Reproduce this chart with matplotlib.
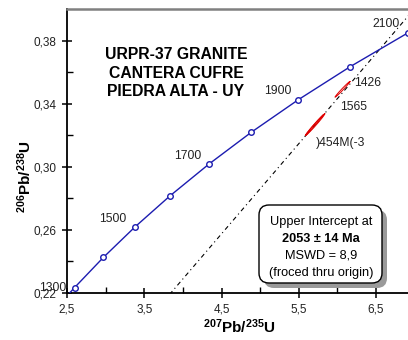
import numpy as np
import matplotlib
matplotlib.use("Agg")
import matplotlib.pyplot as plt
from matplotlib.patches import FancyBboxPatch
from matplotlib.ticker import FuncFormatter

# concordia points (every 100 Ma)
ages = [1300, 1400, 1500, 1600, 1700, 1800, 1900, 2000, 2100]
conc_x = [2.5977, 2.9701, 3.3810, 3.8344, 4.3348, 4.8869, 5.4962, 6.1685, 6.9105]
conc_y = [0.22343, 0.24256, 0.26199, 0.28172, 0.30175, 0.32210, 0.34277, 0.36377, 0.38509]
# curve continues past the marked ages (1280 and 2150 Ma)
conc_lo = (2.5276, 0.21965)
conc_hi = (7.3099, 0.39587)
labelled_ages = [1300, 1500, 1700, 1900, 2100]

# upper intercept (2053 Ma), discordia forced through origin
intercept = (6.5527, 0.37503)

# error ellipses: name, x, sx, y, sy, rho
ell_names = ["1426", "1565", ")454M(-3"]
ell_x = [6.066, 5.712, 5.702]
ell_sx = [0.097, 0.125, 0.118]
ell_y = [0.3493, 0.3269, 0.3265]
ell_sy = [0.0050, 0.0069, 0.0066]
ell_rho = [0.99, 0.99, 0.996]

plt.rcParams["font.family"] = ["Liberation Sans", "DejaVu Sans"]
plt.rcParams["mathtext.fontset"] = "custom"
plt.rcParams["mathtext.rm"] = "Liberation Sans"
plt.rcParams["mathtext.bf"] = "Liberation Sans:bold"

fig = plt.figure(figsize=(4.08, 3.40), dpi=100)
W, H = 408, 340
ax = fig.add_axes([67 / W, 1 - 293 / H, 1 - 67 / W, (293 - 9) / H])
ax.set_xlim(2.5, 6.914)
ax.set_ylim(0.22, 0.4003)

blue = "#1c1cb0"
ax.plot([conc_lo[0]] + conc_x + [conc_hi[0]], [conc_lo[1]] + conc_y + [conc_hi[1]],
        color=blue, lw=1.0, zorder=3)
ax.plot(conc_x, conc_y, "o", ms=4, mfc="white", mec=blue, mew=1.0, zorder=4)

offsets = {1300: (-8, 0), 1500: (-22, 8), 1700: (-21, 8), 1900: (-21, 9), 2100: (-22, 9)}
for a in labelled_ages:
    i = ages.index(a)
    ax.annotate(str(a), (conc_x[i], conc_y[i]), xytext=offsets[a],
                textcoords="offset pixels", fontsize=8.7, color="#222222",
                ha="right" if a == 1300 else "center", va="center",
                annotation_clip=False)

# discordia
ax.plot([0, intercept[0] * 1.1], [0, intercept[1] * 1.1], color="black", lw=0.8,
        linestyle=(0, (4, 3, 1, 3)), zorder=2)

# error ellipses
t = np.linspace(0, 2 * np.pi, 200)
for x, sx, y, sy, r in zip(ell_x, ell_sx, ell_y, ell_sy, ell_rho):
    cov = np.array([[sx * sx, r * sx * sy], [r * sx * sy, sy * sy]])
    L = np.linalg.cholesky(cov)
    pts = L @ np.vstack([np.cos(t), np.sin(t)])
    ax.plot(x + pts[0], y + pts[1], color="#e00000", lw=0.7, zorder=3)

label_off = [(12, 6), (25, 18), (2, -18)]
for name, x, y, off in zip(ell_names, ell_x, ell_y, label_off):
    ax.annotate(name, (x, y), xytext=off, textcoords="offset pixels",
                fontsize=8.7, color="#222222", ha="left", va="center")

# axes styling
for s in ["left", "bottom"]:
    ax.spines[s].set_linewidth(1.3)
ax.spines["right"].set_visible(False)
ax.spines["top"].set_color("#808080")
ax.spines["top"].set_linewidth(1.8)

ax.set_xticks([2.5, 3.5, 4.5, 5.5, 6.5])
ax.set_xticks([3.0, 4.0, 5.0, 6.0], minor=True)
ax.set_yticks([0.22, 0.26, 0.30, 0.34, 0.38])
ax.set_yticks([0.24, 0.28, 0.32, 0.36], minor=True)
ax.xaxis.set_major_formatter(FuncFormatter(lambda v, p: f"{v:.1f}".replace(".", ",")))
ax.yaxis.set_major_formatter(FuncFormatter(lambda v, p: f"{v:.2f}".replace(".", ",")))
ax.tick_params(which="major", direction="inout", length=7, width=1.1,
               labelsize=8.5, labelcolor="#222222", pad=4, top=False, right=False)
ax.tick_params(which="minor", direction="in", length=4, width=1.0, top=False, right=False)

# titles / labels
fig.text(176 / W, 1 - 73 / H, "URPR-37 GRANITE\nCANTERA CUFRE\nPIEDRA ALTA - UY",
         ha="center", va="center", fontsize=11.3, fontweight="bold",
         linespacing=1.3)
fig.text(239 / W, 1 - 327 / H, r"$\mathbf{^{207}Pb/^{235}U}$", ha="center",
         va="center", fontsize=11)
fig.text(25 / W, 1 - 177 / H, r"$\mathbf{^{206}Pb/^{238}U}$", ha="center",
         va="center", fontsize=11, rotation=90)

# result box with shadow
tr = fig.dpi_scale_trans
bx0, by0, bx1, by1 = 259, 205, 382, 283
shadow = FancyBboxPatch(((bx0 + 5) / 100, (H - by1 - 5) / 100),
                        (bx1 - bx0) / 100, (by1 - by0) / 100,
                        boxstyle="round,pad=0,rounding_size=0.1",
                        transform=tr, fc="#9a9a9a", ec="none", zorder=5)
box = FancyBboxPatch((bx0 / 100, (H - by1) / 100),
                     (bx1 - bx0) / 100, (by1 - by0) / 100,
                     boxstyle="round,pad=0,rounding_size=0.1",
                     transform=tr, fc="white", ec="black", lw=1.0, zorder=6)
fig.patches.extend([shadow, box])
box_lines = [("Upper Intercept at", "normal", 222),
             ("2053 ± 14 Ma", "bold", 239),
             ("MSWD = 8,9", "normal", 256),
             ("(froced thru origin)", "normal", 273)]
for txt, wt, yy in box_lines:
    fig.text(321 / W, 1 - yy / H, txt, ha="center", va="center", fontsize=9.2,
             fontweight=wt, zorder=7)

fig.savefig("out.png", dpi=100)
